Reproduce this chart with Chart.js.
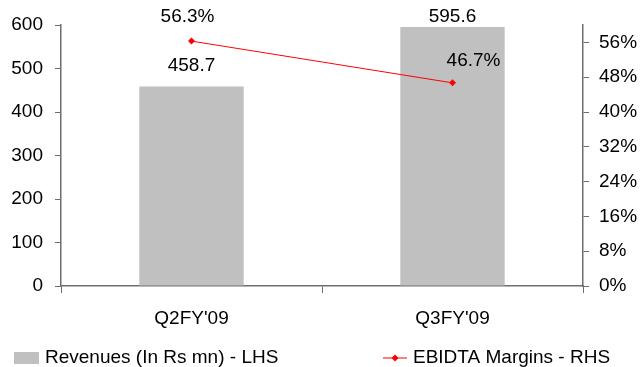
<!DOCTYPE html>
<html lang="en">
<head>
  <meta charset="UTF-8" />
  <title>Revenues and EBIDTA Margins</title>
  <script src="https://cdn.jsdelivr.net/npm/chart.js"></script>
  <style>
    html, body { margin: 0; padding: 0; background: #fff; }
    #wrap { width: 641px; height: 367px; }
  </style>
</head>
<body>
  <div id="wrap"><canvas id="chart" width="641" height="367"></canvas></div>
  <script>
    // data
    const quarters = ["Q2FY'09", "Q3FY'09"];
    const revenues = [458.7, 595.6];
    const ebidtaMargins = [56.3, 46.7];
    const leftTicks = [0, 100, 200, 300, 400, 500, 600];
    const rightTicks = [0, 8, 16, 24, 32, 40, 48, 56];

    const FONT = "'Liberation Sans', Arial, sans-serif";
    const AXIS = '#6e6e6e';

    // label nudges [dx, gap above mark]
    const barLabelNudge = [[0, 11], [0, 1]];
    const lineLabelNudge = [[-4, 15], [21, 13]];

    const valueLabels = {
      id: 'valueLabels',
      afterDatasetsDraw(chart) {
        const ctx = chart.ctx;
        ctx.save();
        ctx.font = '19px ' + FONT;
        ctx.fillStyle = '#000';
        ctx.textAlign = 'center';
        ctx.textBaseline = 'bottom';
        chart.getDatasetMeta(0).data.forEach((bar, i) => {
          const n = barLabelNudge[i];
          ctx.fillText(revenues[i].toFixed(1), bar.x + n[0], bar.y - n[1]);
        });
        chart.getDatasetMeta(1).data.forEach((pt, i) => {
          const n = lineLabelNudge[i];
          ctx.fillText(ebidtaMargins[i].toFixed(1) + '%', pt.x + n[0], pt.y - n[1]);
        });
        ctx.restore();
      }
    };

    const bottomLegend = {
      id: 'bottomLegend',
      afterDraw(chart) {
        const ctx = chart.ctx;
        const y = 358;
        ctx.save();
        ctx.font = '19px ' + FONT;
        ctx.fillStyle = '#c0c0c0';
        ctx.fillRect(14, y - 6, 25, 12);
        ctx.fillStyle = '#000';
        ctx.textBaseline = 'middle';
        ctx.fillText('Revenues (In Rs mn) - LHS', 45, y);
        ctx.strokeStyle = '#ff0000';
        ctx.lineWidth = 1;
        ctx.beginPath();
        ctx.moveTo(383, y);
        ctx.lineTo(407, y);
        ctx.stroke();
        ctx.fillStyle = '#ff0000';
        ctx.beginPath();
        ctx.moveTo(395, y - 3.5);
        ctx.lineTo(398.5, y);
        ctx.lineTo(395, y + 3.5);
        ctx.lineTo(391.5, y);
        ctx.closePath();
        ctx.fill();
        ctx.fillStyle = '#000';
        ctx.fillText('EBIDTA Margins - RHS', 413, y);
        ctx.restore();
      }
    };

    new Chart(document.getElementById('chart'), {
      type: 'bar',
      data: {
        labels: quarters,
        datasets: [
          {
            label: 'Revenues (In Rs mn) - LHS',
            data: revenues,
            backgroundColor: '#c0c0c0',
            categoryPercentage: 1,
            barPercentage: 0.4,
            yAxisID: 'y',
            order: 2
          },
          {
            type: 'line',
            label: 'EBIDTA Margins - RHS',
            data: ebidtaMargins,
            borderColor: '#ff0000',
            backgroundColor: '#ff0000',
            borderWidth: 1,
            pointStyle: 'rectRot',
            pointRadius: 3.5,
            pointBorderWidth: 0,
            yAxisID: 'y1',
            order: 1
          }
        ]
      },
      options: {
        responsive: false,
        animation: false,
        layout: { padding: { top: 25, left: 0, right: 0, bottom: 0 } },
        plugins: {
          legend: { display: false },
          tooltip: { enabled: false }
        },
        scales: {
          x: {
            grid: { offset: true, drawOnChartArea: false, tickLength: 7, color: AXIS },
            border: { color: AXIS, width: 1.5 },
            ticks: { color: '#000', font: { family: FONT, size: 19 }, padding: 14 },
            afterFit(scale) { scale.height = 81; }
          },
          y: {
            position: 'left',
            min: 0,
            max: 600,
            afterBuildTicks(scale) {
              scale.ticks = leftTicks.map(v => ({ value: v }));
            },
            ticks: { color: '#000', font: { family: FONT, size: 19 }, padding: 12 },
            grid: { drawOnChartArea: false, tickLength: 6, color: AXIS },
            border: { color: AXIS, width: 1.5 },
            afterFit(scale) { scale.width = 61; }
          },
          y1: {
            position: 'right',
            min: 0,
            max: 60,
            afterBuildTicks(scale) {
              scale.ticks = rightTicks.map(v => ({ value: v }));
            },
            ticks: {
              color: '#000',
              font: { family: FONT, size: 19 },
              padding: 10,
              callback: v => v + '%'
            },
            grid: { drawOnChartArea: false, tickLength: 6, color: AXIS },
            border: { color: AXIS, width: 1.5 },
            afterFit(scale) { scale.width = 58; }
          }
        }
      },
      plugins: [valueLabels, bottomLegend]
    });
  </script>
</body>
</html>
